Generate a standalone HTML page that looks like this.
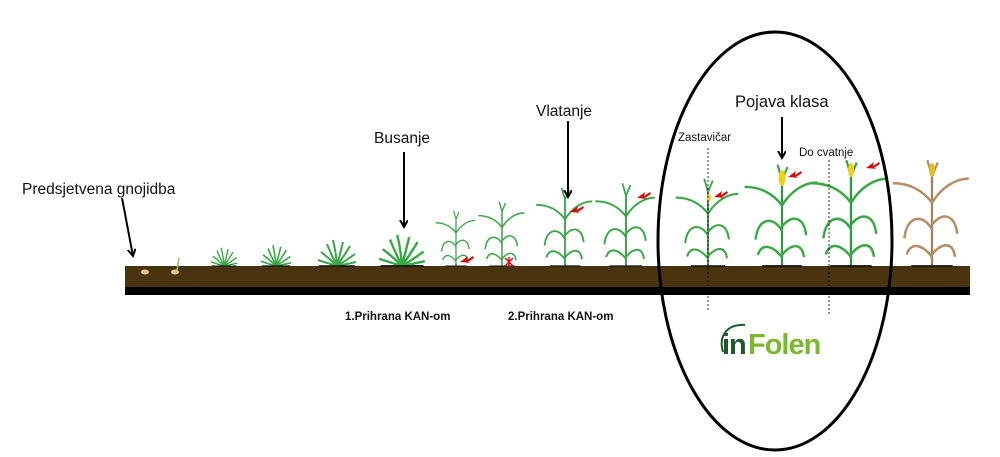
<!DOCTYPE html>
<html><head><meta charset="utf-8"><style>
html,body{margin:0;padding:0;background:#fff;width:1000px;height:457px;overflow:hidden}
svg{display:block}
text{font-family:"Liberation Sans",sans-serif;fill:#111}
</style></head><body>
<svg width="1000" height="457" viewBox="0 0 1000 457" xmlns="http://www.w3.org/2000/svg">
<defs>
<marker id="ah" markerWidth="10" markerHeight="10" refX="7" refY="4" orient="auto" markerUnits="userSpaceOnUse"><path d="M0,0 L7,4 L0,8" fill="none" stroke="#000" stroke-width="2"/></marker>
<g id="tall">
 <path d="M0,0 L0,-78" stroke="#2e9a3e" stroke-width="2" fill="none"/>
 <path d="M0,-8 C-8,-18 -18,-22 -22,-10" stroke="#3aa845" stroke-width="2.2" fill="none"/>
 <path d="M0,-10 C8,-20 18,-22 20,-8" stroke="#3aa845" stroke-width="2.2" fill="none"/>
 <path d="M0,-32 C-8,-46 -22,-44 -24,-24" stroke="#3aa845" stroke-width="2.2" fill="none"/>
 <path d="M0,-36 C10,-48 20,-44 22,-28" stroke="#3aa845" stroke-width="2.2" fill="none"/>
 <path d="M0,-55 C-8,-66 -20,-72 -34,-72" stroke="#3aa845" stroke-width="2.2" fill="none"/>
 <path d="M0,-55 C8,-68 20,-76 32,-76" stroke="#3aa845" stroke-width="2.2" fill="none"/>
 <path d="M0,-78 L-4,-92 M0,-78 L5,-90" stroke="#3aa845" stroke-width="2" fill="none"/>
 <path d="M-18,0 L18,0" stroke="#111" stroke-width="1.5"/>
</g>
<g id="bush">
 <path d="M0,0 Q-8,-8 -16,-14 M0,0 Q-6,-12 -10,-22 M0,0 Q-1,-14 -4,-26 M0,0 Q3,-12 6,-24 M0,0 Q7,-10 13,-20 M0,0 Q10,-6 18,-12 M0,0 Q-10,-3 -19,-6 M0,0 Q10,-2 19,-4" stroke="#3aa845" stroke-width="2" fill="none"/>
 <path d="M-18,0 L18,0" stroke="#111" stroke-width="1.5"/>
</g>
<g id="arr"><path d="M0,0 L8,-6 L7,-2 L13,-6 L14,-4 L8,0 L11,1 Z" fill="#d01010"/></g>
</defs>

<rect x="125" y="266" width="845" height="21" fill="#4a3410"/>
<rect x="125" y="287" width="845" height="8" fill="#000"/>

<ellipse cx="145" cy="272" rx="4" ry="2.5" fill="#e8c880"/>
<ellipse cx="175" cy="272" rx="4" ry="2.5" fill="#e8c880"/>
<path d="M177,270 L179,258" stroke="#8bc56a" stroke-width="1.5"/>
<g transform="translate(224,266) scale(0.7)"><use href="#bush"/></g>
<g transform="translate(276,266) scale(0.8)"><use href="#bush"/></g>
<g transform="translate(337,266)"><use href="#bush"/></g>
<g transform="translate(402,266) scale(1.2)"><use href="#bush"/></g>
<g transform="translate(456,266) scale(0.6)"><use href="#tall"/></g>
<g transform="translate(502,266) scale(0.7)"><use href="#tall"/></g>
<g transform="translate(565,266) scale(0.85)"><use href="#tall"/></g>
<g transform="translate(626,266) scale(0.9)"><use href="#tall"/></g>
<g transform="translate(708,266) scale(0.95)"><use href="#tall"/></g>
<g transform="translate(782,266) scale(1.1)"><use href="#tall"/></g>
<g transform="translate(851,266) scale(1.15)"><use href="#tall"/></g>
<g transform="translate(932,266) scale(1.15)" style="filter:sepia(1) saturate(1.5) hue-rotate(-10deg)"><use href="#tall"/></g>
<ellipse cx="782" cy="178" rx="3.5" ry="8" fill="#f0d020"/>
<ellipse cx="851" cy="170" rx="3" ry="7" fill="#f0d020"/>
<ellipse cx="932" cy="170" rx="3" ry="7" fill="#e0c020"/>
<ellipse cx="709" cy="198" rx="2" ry="4" fill="#f0d020"/>
<use href="#arr" x="460" y="262"/>
<use href="#arr" x="570" y="212"/>
<use href="#arr" x="637" y="198"/>
<use href="#arr" x="714" y="197"/>
<use href="#arr" x="788" y="177"/>
<use href="#arr" x="866" y="168"/>
<path d="M505,258 l8,8 m0,-8 l-8,8 m4,-9 v10" stroke="#d01010" stroke-width="1.5"/>

<ellipse cx="775" cy="241" rx="117" ry="209" fill="none" stroke="#000" stroke-width="3"/>
<line x1="708" y1="148" x2="708" y2="312" stroke="#000" stroke-width="0.8" stroke-dasharray="2,2"/>
<line x1="829" y1="160" x2="829" y2="314" stroke="#000" stroke-width="0.8" stroke-dasharray="2,2"/>

<line x1="122" y1="198" x2="133" y2="256" stroke="#000" stroke-width="2" marker-end="url(#ah)"/>
<line x1="404" y1="152" x2="404" y2="227" stroke="#000" stroke-width="2" marker-end="url(#ah)"/>
<line x1="568" y1="121" x2="568" y2="197" stroke="#000" stroke-width="2" marker-end="url(#ah)"/>
<line x1="782" y1="117" x2="782" y2="158" stroke="#000" stroke-width="2" marker-end="url(#ah)"/>

<text x="22" y="194" font-size="15.5">Predsjetvena gnojidba</text>
<text x="374" y="143" font-size="15.5">Busanje</text>
<text x="536" y="116" font-size="15.5">Vlatanje</text>
<text x="735" y="107" font-size="16.5">Pojava klasa</text>
<text x="678" y="141" font-size="11.5">Zastavičar</text>
<text x="799" y="156" font-size="11.5">Do cvatnje</text>
<text x="345" y="320" font-size="11.5" font-weight="bold">1.Prihrana KAN-om</text>
<text x="508" y="320" font-size="11.5" font-weight="bold">2.Prihrana KAN-om</text>
<path d="M723,352 C718,335 728,324 745,325" stroke="#1e5a2a" stroke-width="2" fill="none"/>
<text x="722" y="354" font-size="29" font-weight="bold" style="fill:#1e5a2a;letter-spacing:-1px">in</text>
<text x="748" y="354" font-size="29" font-weight="bold" style="fill:#7ab82e;letter-spacing:-1px">Folen</text>
</svg>
</body></html>
